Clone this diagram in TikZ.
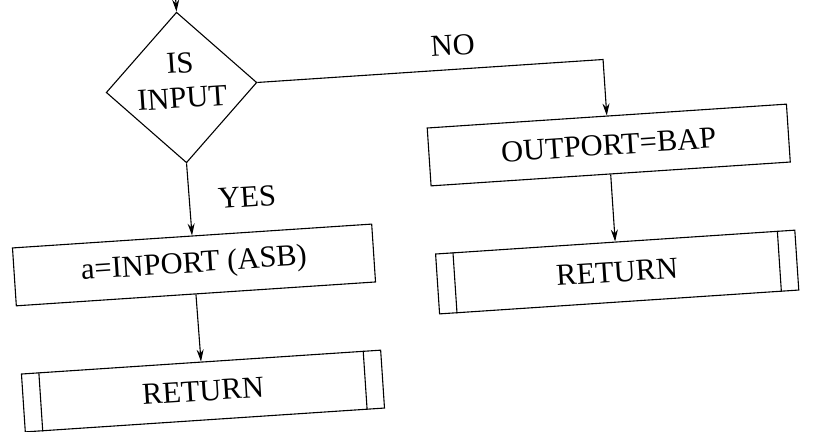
\documentclass[tikz,border=0pt]{standalone}
\usepackage{fontspec}
\setmainfont{Liberation Serif}
\usetikzlibrary{shapes.geometric,arrows.meta,calc}
\begin{document}
\begin{tikzpicture}[x=1pt,y=1pt,
  every node/.style={font=\fontsize{30.5}{35}\selectfont},
  conn/.style={line width=1.1pt, -{Stealth[length=12pt,width=7pt]}},
  procbox/.style={draw, line width=1.1pt, rectangle, minimum width=360pt, minimum height=58pt, inner sep=0pt},
  decision/.style={draw, diamond, line width=1.1pt, minimum width=151pt, minimum height=151pt, inner sep=0pt, aspect=1},
  bar/.style={line width=1.1pt},
  lbl/.style={align=center, inner sep=0pt}]
\useasboundingbox (0,0) rectangle (813,431);
\clip (0,0) rectangle (813,431);
\begin{scope}[rotate around={3.8:(400,215)}, transform shape]
  \node[decision] (dia) at (190.5,357.7) {};
  \node[lbl] (dtext) at ([yshift=7pt]dia.center) {IS\\INPUT};
  \coordinate (top) at (190.5,470);
  \node[procbox] (inp) at (191.2,179.8) {a=INPORT (ASB)};
  \node[procbox] (ret1) at (191.8,53.4) {RETURN};
  \node[procbox] (outp) at (613,272) {OUTPORT=BAP};
  \node[procbox, minimum height=60pt] (ret2) at (613,144.7) {RETURN};
  \coordinate (corner) at (613,357.7);
  \node[lbl] (no) at (464,382) {NO};
  \node[lbl] (yes) at (248.6,244) {YES};

  \draw[conn] (top) -- (dia.north);
  \draw[conn] (dia.south) -- (inp.north);
  \draw[conn] (inp.south) -- (ret1.north);
  \draw[conn] (dia.east) -- (corner) -- (outp.north);
  \draw[conn] (outp.south) -- (ret2.north);

  \foreach \b in {ret1,ret2}{
    \draw[bar] ($(\b.north west)!18pt!(\b.north east)$) -- ($(\b.south west)!18pt!(\b.south east)$);
    \draw[bar] ($(\b.north east)!18pt!(\b.north west)$) -- ($(\b.south east)!18pt!(\b.south west)$);
  }
\end{scope}
\end{tikzpicture}
\end{document}
